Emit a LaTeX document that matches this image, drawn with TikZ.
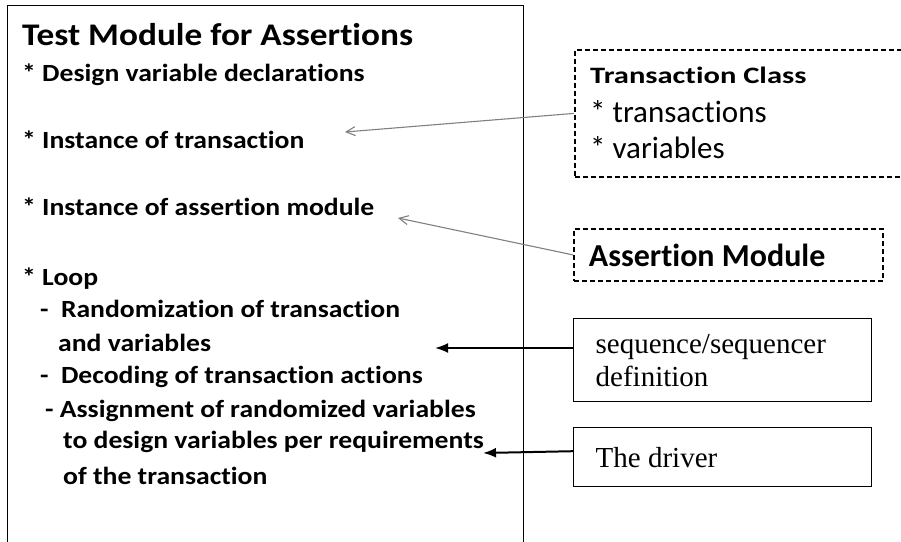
\documentclass[tikz,border=0pt]{standalone}
\usepackage{fontspec}
\setmainfont{Carlito}[Ligatures=NoCommon]
\newfontfamily\widesans{Carlito}[FakeStretch=1.12,Ligatures=NoCommon]
\newfontfamily\widersans{Carlito}[FakeStretch=1.3,Ligatures=NoCommon]
\newfontfamily\serifbox{Liberation Serif}
\usetikzlibrary{positioning}
\usetikzlibrary{arrows.meta}
\tikzset{
mainbox/.style={
draw,
line width=1.4pt,
anchor=north west,
inner sep=0pt},
dashbox/.style={
draw,
line width=1.8pt,
dash pattern=on 5pt off 3pt,
anchor=north west},
plainbox/.style={
draw,
line width=1.4pt,
anchor=north west,
align=flush left,
font=\fontsize{29}{34}\selectfont\serifbox},
line/.style={
anchor=base west,
inner sep=0pt,
font=\fontsize{24.7}{28}\selectfont\widesans\bfseries},
grayarrow/.style={
draw=gray,
line width=1.1pt,
-{Straight Barb[length=9pt,width=9pt]}},
blkarrow/.style={
draw=black,
line width=2pt,
-{Latex[length=13pt,width=10pt]}}}

\begin{document}
\begin{tikzpicture}[x=1pt,y=-1pt]
\useasboundingbox (0,0) rectangle (901,541);
\node[mainbox, minimum width=516, minimum height=570] (testmod) at (7,5) {};
\node[line, font=\fontsize{31.5}{36}\selectfont\widesans\bfseries] (title) at (22,45) {Test Module for Assertions};
\node[line] (decl) at (22,81) {* Design variable declarations};
\node[line] (insttr) at (22,148) {* Instance of transaction};
\node[line] (instam) at (22,215) {* Instance of assertion module};
\node[line] (loop) at (22,285) {* Loop};
\node[line] (rand) at (40,317) {-\enspace Randomization of transaction};
\node[line] (randb) at (58,351) {and variables};
\node[line] (decode) at (40,383) {-\enspace Decoding of transaction actions};
\node[line] (assign) at (45,417) {- Assignment of randomized variables};
\node[line] (assignb) at (63,448) {to design variables per requirements};
\node[line] (assignc) at (63,484) {of the transaction};
% right column
\node[dashbox, minimum width=340, minimum height=127] (tcls) at (574,49) {};
\node[line, font=\fontsize{23.5}{28}\selectfont\widersans\bfseries] (tctitle) at (590,83) {Transaction Class};
\node[line, font=\fontsize{31}{36}\selectfont] (tcitema) at (590,122) {* transactions};
\node[line, font=\fontsize{31}{36}\selectfont] (tcitemb) at (590,158) {* variables};
\node[dashbox, minimum width=309, minimum height=52, text width=279, inner xsep=15pt, align=flush left,
font=\fontsize{32}{37}\selectfont\bfseries] (amod) at (573,228) {Assertion Module};
\node[plainbox, minimum width=298, minimum height=83, text width=254, inner xsep=22pt] (seqdef) at (573,318) {sequence/sequencer\\[-1pt]definition};
\node[plainbox, minimum width=298, minimum height=59, text width=254, inner xsep=22pt] (drv) at (573,427) {The driver};
% arrow ends
\coordinate (trtip) at (345,132);
\coordinate (amtip) at (398,218);
\coordinate (seqtip) at (435,348);
\coordinate (drvtip) at (483,453);
\draw[grayarrow] (tcls.west) -- (trtip);
\draw[grayarrow] (amod.west) -- (amtip);
\draw[blkarrow] (seqdef.west |- seqtip) -- (seqtip);
\draw[blkarrow] ([yshift=6pt]drv.west) -- (drvtip);
\end{tikzpicture}
\end{document}
